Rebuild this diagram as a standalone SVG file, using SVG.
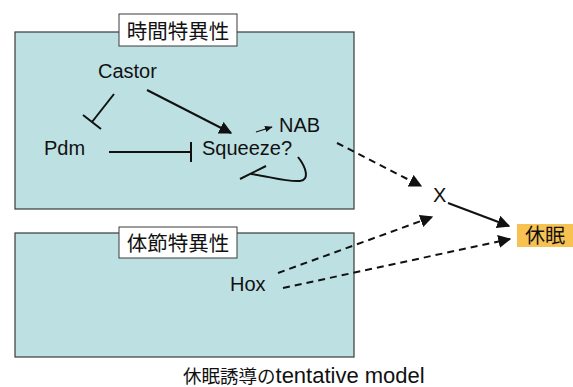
<svg xmlns="http://www.w3.org/2000/svg" width="573" height="387" viewBox="0 0 573 387">
<defs>
<style>
.panel{fill:#bde0e3;stroke:#3a3a3a;stroke-width:1.2}
.lbl{fill:#fff;stroke:#3a3a3a;stroke-width:1}
.t{font-family:"Liberation Sans","Noto Sans CJK JP",Arial,sans-serif;font-size:20px;fill:#111}
.j{font-family:"Noto Sans CJK JP","Liberation Sans",sans-serif;font-size:20.5px;fill:#111}
.ln{stroke:#111;stroke-width:2;fill:none}
.dash{stroke:#111;stroke-width:2;fill:none;stroke-dasharray:7,5}
</style>
<marker id="ah" viewBox="0 0 10 10" refX="9" refY="5" markerWidth="6.5" markerHeight="6.5" orient="auto" markerUnits="strokeWidth">
<path d="M0,0 L10,5 L0,10 z" fill="#111"/>
</marker>
<marker id="ahs" viewBox="0 0 10 10" refX="9" refY="5" markerWidth="6" markerHeight="6" orient="auto" markerUnits="strokeWidth">
<path d="M0,1 L10,5 L0,9 z" fill="#111"/>
</marker>
</defs>
<rect width="573" height="387" fill="#fff"/>
<g id="panel-time">
<rect class="panel" x="15" y="32" width="339" height="177"/>
<rect class="lbl" x="119" y="14" width="118" height="32"/>
<text class="j" x="178" y="39" text-anchor="middle">時間特異性</text>
</g>
<g id="panel-segment">
<rect class="panel" x="15" y="233" width="339" height="124"/>
<rect class="lbl" x="119" y="227" width="118" height="31"/>
<text class="j" x="178" y="251" text-anchor="middle">体節特異性</text>
</g>
<g id="castor"><text class="t" x="98" y="78">Castor</text></g>
<g id="pdm"><text class="t" x="44" y="155">Pdm</text></g>
<g id="squeeze"><text class="t" x="202" y="155">Squeeze?</text></g>
<g id="nab"><text class="t" x="279" y="132">NAB</text></g>
<g id="x"><text class="t" x="433" y="202">X</text></g>
<g id="hox"><text class="t" x="230" y="291">Hox</text></g>
<g id="kyumin">
<rect x="517" y="224" width="56" height="23" fill="#f8c252"/>
<text class="j" x="525" y="243" style="font-size:20px">休眠</text>
</g>
<g id="connectors">
<line class="ln" x1="114" y1="94" x2="92" y2="122"/>
<line class="ln" x1="83" y1="115" x2="101" y2="129"/>
<line class="ln" x1="147" y1="90" x2="231" y2="133" marker-end="url(#ah)"/>
<line class="ln" x1="109" y1="152" x2="191" y2="152"/>
<line class="ln" x1="191" y1="142" x2="191" y2="162"/>
<line stroke="#111" stroke-width="1.3" x1="256" y1="132" x2="272" y2="127" marker-end="url(#ahs)"/>
<path class="ln" d="M298,157 C306,167 310,180 300,181 C285,182 268,176 251,174"/>
<line class="ln" x1="240" y1="179" x2="266" y2="166"/>
<line class="dash" x1="337" y1="143" x2="421" y2="186" marker-end="url(#ah)"/>
<line class="ln" x1="448" y1="203" x2="509" y2="226" marker-end="url(#ah)"/>
<line class="dash" x1="278" y1="273" x2="432" y2="217" marker-end="url(#ah)"/>
<line class="dash" x1="283" y1="288" x2="510" y2="239" marker-end="url(#ah)"/>
</g>
<g id="caption"><text x="183" y="383" style="font-family:'Liberation Sans','Noto Sans CJK JP',sans-serif;fill:#111"><tspan style="font-family:'Noto Sans CJK JP',sans-serif;font-size:18.5px">休眠誘導の</tspan><tspan style="font-size:22px">tentative model</tspan></text></g>
</svg>
